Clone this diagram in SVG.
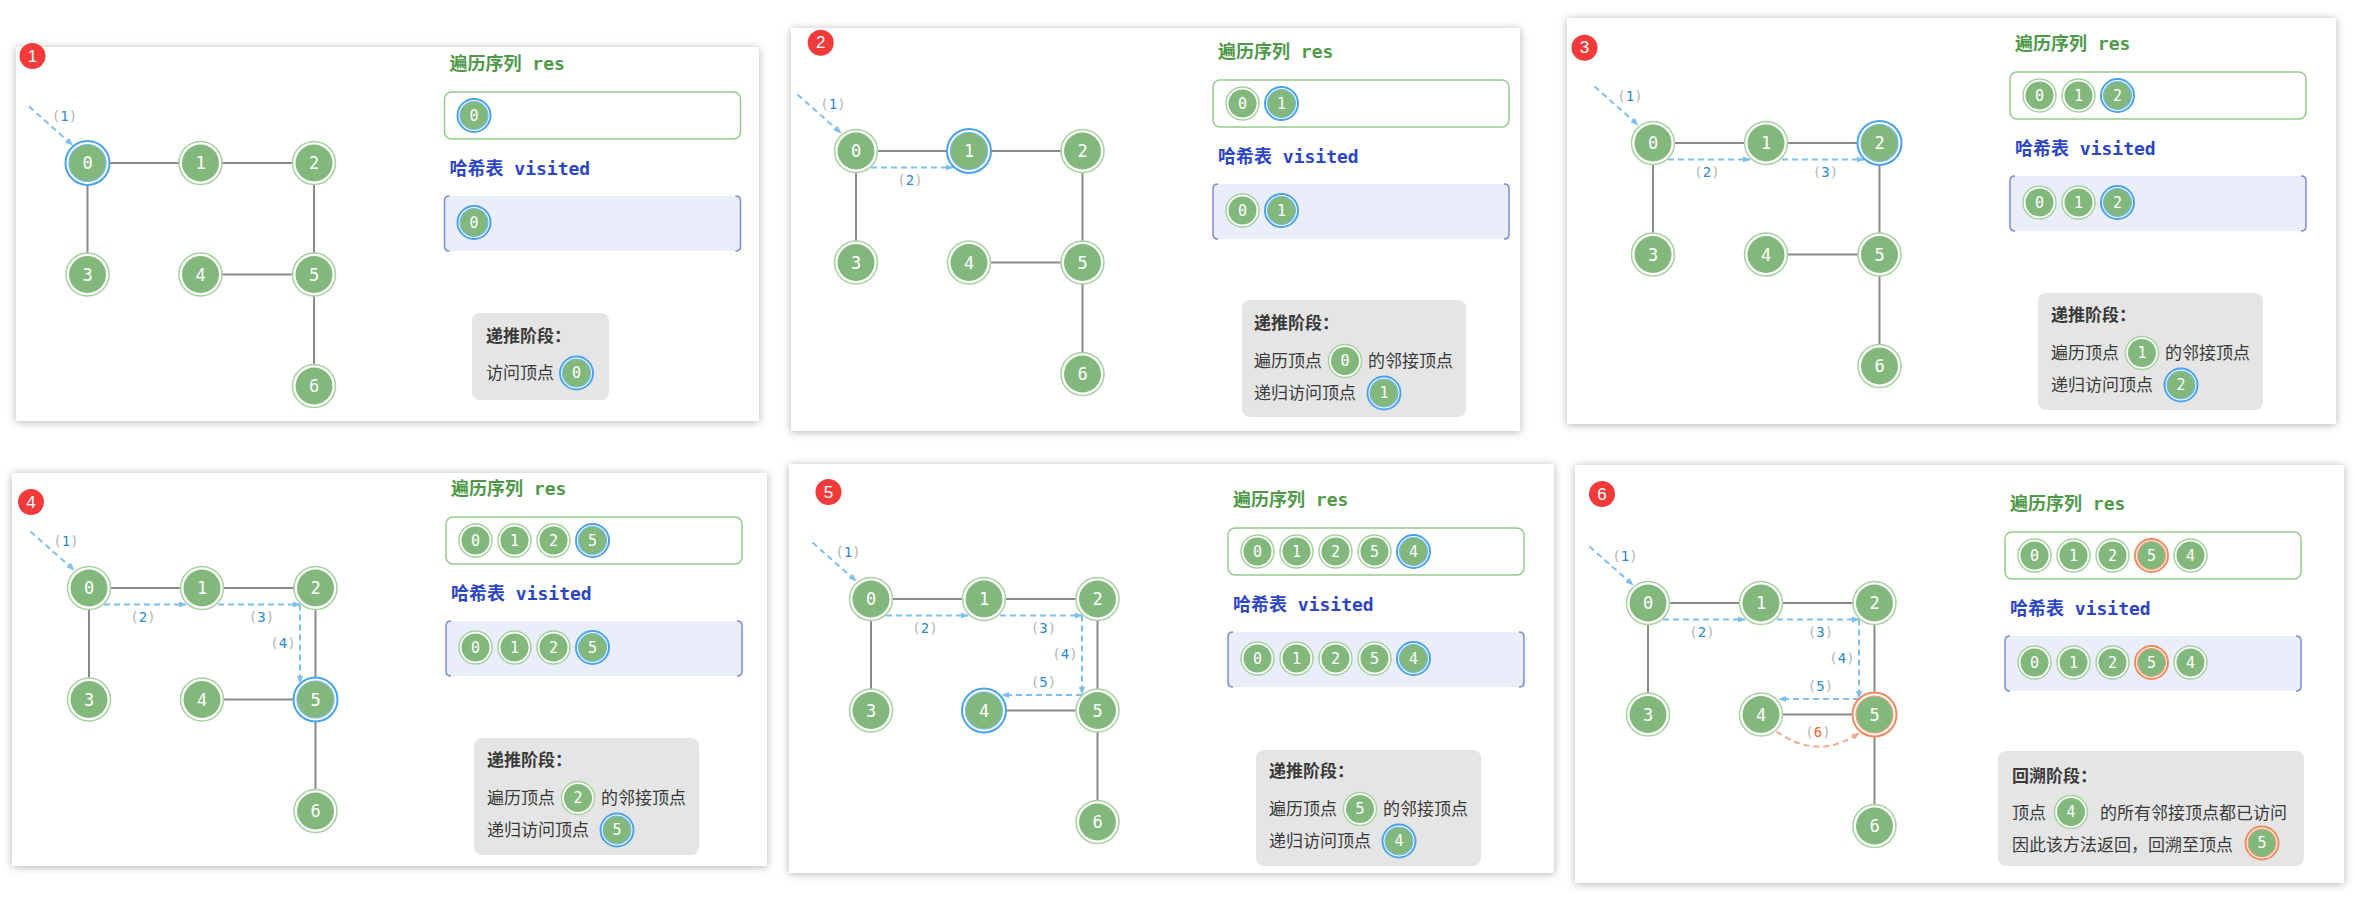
<svg xmlns="http://www.w3.org/2000/svg" width="2355" height="907" viewBox="0 0 2355 907">
<style>
.fr{fill:#fff;filter:url(#sh)}
.e{stroke:#8a8a8a;stroke-width:2;fill:none}
.o{fill:#fff;stroke:#a5d29e;stroke-width:1.5}
.ob{fill:#fff;stroke:#4aa3ea;stroke-width:2}
.oo{fill:#fff;stroke:#f2885c;stroke-width:2}
.f{fill:#82b87c}
.fb{fill:#82b87c;stroke:#72b9ef;stroke-width:1.2}
.fo{fill:#82b87c;stroke:#f5a07c;stroke-width:1.2}
.t{fill:#fff;font-family:"DejaVu Sans Mono","Liberation Mono",monospace;font-size:17px;text-anchor:middle;dominant-baseline:central}
.ts{font-size:15px}
.tg{fill:#4f9a48;font-family:"DejaVu Sans Mono","Noto Sans CJK SC",monospace;font-size:18px;font-weight:bold}
.tb{fill:#2d46c5;font-family:"DejaVu Sans Mono","Noto Sans CJK SC",monospace;font-size:18px;font-weight:bold}
.rb{fill:#fff;stroke:#96c98f;stroke-width:1.5}
.vb{fill:#eaeefa}
.vs{fill:none;stroke:#7b8cdb;stroke-width:1.5}
.sb{fill:#e5e5e5}
.st{fill:#3a3a3a;font-family:"Noto Sans CJK SC","Noto Sans",sans-serif;font-size:17px}
.sh{font-weight:bold}
.ar{fill:none;stroke:#80c0f0;stroke-width:2;stroke-dasharray:6 4;marker-end:url(#mb)}
.aro{fill:none;stroke:#f5a88c;stroke-width:2;stroke-dasharray:6 4;marker-end:url(#mo)}
.lb{font-family:"DejaVu Sans Mono","Liberation Mono",monospace;font-size:14px;fill:#b5b5b5;text-anchor:middle;dominant-baseline:central}
.d{fill:#2b8ad6}
.dor{fill:#f0682c}
.bd{fill:#f23a3a}
.bt{fill:#fff;font-family:"Liberation Sans",sans-serif;font-size:17px;text-anchor:middle;dominant-baseline:central}
</style>
<defs>
<filter id="sh" x="-5%" y="-5%" width="110%" height="110%"><feDropShadow dx="0" dy="1" stdDeviation="4" flood-color="#000" flood-opacity="0.3"/></filter>
<marker id="mb" viewBox="0 0 10 10" refX="9" refY="5" markerWidth="8" markerHeight="8" orient="auto" markerUnits="userSpaceOnUse"><path d="M0,1 L10,5 L0,9 Z" fill="#80c0f0"/></marker>
<marker id="mo" viewBox="0 0 10 10" refX="9" refY="5" markerWidth="8" markerHeight="8" orient="auto" markerUnits="userSpaceOnUse"><path d="M0,1 L10,5 L0,9 Z" fill="#f5a88c"/></marker>
</defs>
<rect width="2355" height="907" fill="#fff"/>

<!-- ============ PANEL 1 ============ -->
<g id="panel1">
<rect class="fr" x="16" y="47" width="743" height="374"/>
<g id="p1-badge"><circle class="bd" cx="32.5" cy="56" r="13"/><text class="bt" x="32.5" y="56">1</text></g>
<g transform="translate(87.5 163)">
<g id="p1-edges" class="e"><path d="M0 0H113"/><path d="M113 0H226.5"/><path d="M0 0V111.5"/><path d="M226.5 0V111.5"/><path d="M113 111.5H226.5"/><path d="M226.5 111.5V223"/></g>
<g id="p1-connectors"><path class="ar" d="M-58.5 -56.5L-15 -18"/><text class="lb" x="-23" y="-47">(<tspan class="d">1</tspan>)</text></g>
<g id="p1-n0"><circle class="ob" r="22"/><circle class="fb" r="18.5"/><text class="t">0</text></g>
<g id="p1-n1" transform="translate(113 0)"><circle class="o" r="21.5"/><circle class="f" r="18.5"/><text class="t">1</text></g>
<g id="p1-n2" transform="translate(226.5 0)"><circle class="o" r="21.5"/><circle class="f" r="18.5"/><text class="t">2</text></g>
<g id="p1-n3" transform="translate(0 111.5)"><circle class="o" r="21.5"/><circle class="f" r="18.5"/><text class="t">3</text></g>
<g id="p1-n4" transform="translate(113 111.5)"><circle class="o" r="21.5"/><circle class="f" r="18.5"/><text class="t">4</text></g>
<g id="p1-n5" transform="translate(226.5 111.5)"><circle class="o" r="21.5"/><circle class="f" r="18.5"/><text class="t">5</text></g>
<g id="p1-n6" transform="translate(226.5 223)"><circle class="o" r="21.5"/><circle class="f" r="18.5"/><text class="t">6</text></g>
<g id="p1-res"><text class="tg" x="362" y="-93">遍历序列 res</text><rect class="rb" x="357" y="-71" width="296" height="47" rx="7"/>
<g transform="translate(386.5 -47.5)"><circle class="ob" r="16.5"/><circle class="fb" r="14"/><text class="t ts">0</text></g></g>
<g id="p1-visited"><text class="tb" x="362" y="11.5">哈希表 visited</text><rect class="vb" x="357" y="33" width="296" height="55"/><path class="vs" d="M362 33Q357 33 357 38V83Q357 88 362 88M648 33Q653 33 653 38V83Q653 88 648 88"/>
<g transform="translate(386.5 59.5)"><circle class="ob" r="16.5"/><circle class="fb" r="14"/><text class="t ts">0</text></g></g>
<g id="p1-step"><rect class="sb" x="384.5" y="150" width="137" height="87" rx="8"/><text class="st sh" x="398.5" y="179">递推阶段：</text><text class="st" x="398.5" y="216">访问顶点</text>
<g transform="translate(489 210)"><circle class="ob" r="16.5"/><circle class="fb" r="14"/><text class="t ts">0</text></g></g>
</g>
</g>

<!-- ============ PANEL 2 ============ -->
<g id="panel2">
<rect class="fr" x="791" y="28" width="729" height="403"/>
<g id="p2-badge"><circle class="bd" cx="820.7" cy="42.7" r="13"/><text class="bt" x="820.7" y="42.7">2</text></g>
<g transform="translate(856 151)">
<g id="p2-edges" class="e"><path d="M0 0H113"/><path d="M113 0H226.5"/><path d="M0 0V111.5"/><path d="M226.5 0V111.5"/><path d="M113 111.5H226.5"/><path d="M226.5 111.5V223"/></g>
<g id="p2-connectors"><path class="ar" d="M-58.5 -56.5L-15 -18"/><text class="lb" x="-23" y="-47">(<tspan class="d">1</tspan>)</text>
<path class="ar" d="M15 16.5H97"/><text class="lb" x="54" y="29">(<tspan class="d">2</tspan>)</text></g>
<g id="p2-n0"><circle class="o" r="21.5"/><circle class="f" r="18.5"/><text class="t">0</text></g>
<g id="p2-n1" transform="translate(113 0)"><circle class="ob" r="22"/><circle class="fb" r="18.5"/><text class="t">1</text></g>
<g id="p2-n2" transform="translate(226.5 0)"><circle class="o" r="21.5"/><circle class="f" r="18.5"/><text class="t">2</text></g>
<g id="p2-n3" transform="translate(0 111.5)"><circle class="o" r="21.5"/><circle class="f" r="18.5"/><text class="t">3</text></g>
<g id="p2-n4" transform="translate(113 111.5)"><circle class="o" r="21.5"/><circle class="f" r="18.5"/><text class="t">4</text></g>
<g id="p2-n5" transform="translate(226.5 111.5)"><circle class="o" r="21.5"/><circle class="f" r="18.5"/><text class="t">5</text></g>
<g id="p2-n6" transform="translate(226.5 223)"><circle class="o" r="21.5"/><circle class="f" r="18.5"/><text class="t">6</text></g>
<g id="p2-res"><text class="tg" x="362" y="-93">遍历序列 res</text><rect class="rb" x="357" y="-71" width="296" height="47" rx="7"/>
<g transform="translate(386.5 -47.5)"><circle class="o" r="16.5"/><circle class="f" r="14"/><text class="t ts">0</text></g>
<g transform="translate(425.5 -47.5)"><circle class="ob" r="16.5"/><circle class="fb" r="14"/><text class="t ts">1</text></g></g>
<g id="p2-visited"><text class="tb" x="362" y="11.5">哈希表 visited</text><rect class="vb" x="357" y="33" width="296" height="55"/><path class="vs" d="M362 33Q357 33 357 38V83Q357 88 362 88M648 33Q653 33 653 38V83Q653 88 648 88"/>
<g transform="translate(386.5 59.5)"><circle class="o" r="16.5"/><circle class="f" r="14"/><text class="t ts">0</text></g>
<g transform="translate(425.5 59.5)"><circle class="ob" r="16.5"/><circle class="fb" r="14"/><text class="t ts">1</text></g></g>
<g id="p2-step"><rect class="sb" x="386" y="149" width="224" height="117" rx="8"/><text class="st sh" x="398" y="178">递推阶段：</text>
<text class="st" x="398" y="216">遍历顶点</text><g transform="translate(489 210)"><circle class="o" r="16.5"/><circle class="f" r="14"/><text class="t ts">0</text></g><text class="st" x="512" y="216">的邻接顶点</text>
<text class="st" x="398" y="248">递归访问顶点</text><g transform="translate(528 242)"><circle class="ob" r="16.5"/><circle class="fb" r="14"/><text class="t ts">1</text></g></g>
</g>
</g>

<!-- ============ PANEL 3 ============ -->
<g id="panel3">
<rect class="fr" x="1567" y="18" width="769" height="406"/>
<g id="p3-badge"><circle class="bd" cx="1584.5" cy="47.7" r="13"/><text class="bt" x="1584.5" y="47.7">3</text></g>
<g transform="translate(1653 143)">
<g id="p3-edges" class="e"><path d="M0 0H113"/><path d="M113 0H226.5"/><path d="M0 0V111.5"/><path d="M226.5 0V111.5"/><path d="M113 111.5H226.5"/><path d="M226.5 111.5V223"/></g>
<g id="p3-connectors"><path class="ar" d="M-58.5 -56.5L-15 -18"/><text class="lb" x="-23" y="-47">(<tspan class="d">1</tspan>)</text>
<path class="ar" d="M15 16.5H97"/><text class="lb" x="54" y="29">(<tspan class="d">2</tspan>)</text>
<path class="ar" d="M129 16.5H211"/><text class="lb" x="172.5" y="29">(<tspan class="d">3</tspan>)</text></g>
<g id="p3-n0"><circle class="o" r="21.5"/><circle class="f" r="18.5"/><text class="t">0</text></g>
<g id="p3-n1" transform="translate(113 0)"><circle class="o" r="21.5"/><circle class="f" r="18.5"/><text class="t">1</text></g>
<g id="p3-n2" transform="translate(226.5 0)"><circle class="ob" r="22"/><circle class="fb" r="18.5"/><text class="t">2</text></g>
<g id="p3-n3" transform="translate(0 111.5)"><circle class="o" r="21.5"/><circle class="f" r="18.5"/><text class="t">3</text></g>
<g id="p3-n4" transform="translate(113 111.5)"><circle class="o" r="21.5"/><circle class="f" r="18.5"/><text class="t">4</text></g>
<g id="p3-n5" transform="translate(226.5 111.5)"><circle class="o" r="21.5"/><circle class="f" r="18.5"/><text class="t">5</text></g>
<g id="p3-n6" transform="translate(226.5 223)"><circle class="o" r="21.5"/><circle class="f" r="18.5"/><text class="t">6</text></g>
<g id="p3-res"><text class="tg" x="362" y="-93">遍历序列 res</text><rect class="rb" x="357" y="-71" width="296" height="47" rx="7"/>
<g transform="translate(386.5 -47.5)"><circle class="o" r="16.5"/><circle class="f" r="14"/><text class="t ts">0</text></g>
<g transform="translate(425.5 -47.5)"><circle class="o" r="16.5"/><circle class="f" r="14"/><text class="t ts">1</text></g>
<g transform="translate(464.5 -47.5)"><circle class="ob" r="16.5"/><circle class="fb" r="14"/><text class="t ts">2</text></g></g>
<g id="p3-visited"><text class="tb" x="362" y="11.5">哈希表 visited</text><rect class="vb" x="357" y="33" width="296" height="55"/><path class="vs" d="M362 33Q357 33 357 38V83Q357 88 362 88M648 33Q653 33 653 38V83Q653 88 648 88"/>
<g transform="translate(386.5 59.5)"><circle class="o" r="16.5"/><circle class="f" r="14"/><text class="t ts">0</text></g>
<g transform="translate(425.5 59.5)"><circle class="o" r="16.5"/><circle class="f" r="14"/><text class="t ts">1</text></g>
<g transform="translate(464.5 59.5)"><circle class="ob" r="16.5"/><circle class="fb" r="14"/><text class="t ts">2</text></g></g>
<g id="p3-step"><rect class="sb" x="385" y="150" width="225" height="117" rx="8"/><text class="st sh" x="398" y="178">递推阶段：</text>
<text class="st" x="398" y="216">遍历顶点</text><g transform="translate(489 210)"><circle class="o" r="16.5"/><circle class="f" r="14"/><text class="t ts">1</text></g><text class="st" x="512" y="216">的邻接顶点</text>
<text class="st" x="398" y="248">递归访问顶点</text><g transform="translate(528 242)"><circle class="ob" r="16.5"/><circle class="fb" r="14"/><text class="t ts">2</text></g></g>
</g>
</g>

<!-- ============ PANEL 4 ============ -->
<g id="panel4">
<rect class="fr" x="12" y="473" width="755" height="393"/>
<g id="p4-badge"><circle class="bd" cx="31" cy="502" r="13"/><text class="bt" x="31" y="502">4</text></g>
<g transform="translate(89 588)">
<g id="p4-edges" class="e"><path d="M0 0H113"/><path d="M113 0H226.5"/><path d="M0 0V111.5"/><path d="M226.5 0V111.5"/><path d="M113 111.5H226.5"/><path d="M226.5 111.5V223"/></g>
<g id="p4-connectors"><path class="ar" d="M-58.5 -56.5L-15 -18"/><text class="lb" x="-23" y="-47">(<tspan class="d">1</tspan>)</text>
<path class="ar" d="M15 16.5H97"/><text class="lb" x="54" y="29">(<tspan class="d">2</tspan>)</text>
<path class="ar" d="M129 16.5H211"/><text class="lb" x="172.5" y="29">(<tspan class="d">3</tspan>)</text>
<path class="ar" d="M211 16.5V95"/><text class="lb" x="194" y="55">(<tspan class="d">4</tspan>)</text></g>
<g id="p4-n0"><circle class="o" r="21.5"/><circle class="f" r="18.5"/><text class="t">0</text></g>
<g id="p4-n1" transform="translate(113 0)"><circle class="o" r="21.5"/><circle class="f" r="18.5"/><text class="t">1</text></g>
<g id="p4-n2" transform="translate(226.5 0)"><circle class="o" r="21.5"/><circle class="f" r="18.5"/><text class="t">2</text></g>
<g id="p4-n3" transform="translate(0 111.5)"><circle class="o" r="21.5"/><circle class="f" r="18.5"/><text class="t">3</text></g>
<g id="p4-n4" transform="translate(113 111.5)"><circle class="o" r="21.5"/><circle class="f" r="18.5"/><text class="t">4</text></g>
<g id="p4-n5" transform="translate(226.5 111.5)"><circle class="ob" r="22"/><circle class="fb" r="18.5"/><text class="t">5</text></g>
<g id="p4-n6" transform="translate(226.5 223)"><circle class="o" r="21.5"/><circle class="f" r="18.5"/><text class="t">6</text></g>
<g id="p4-res"><text class="tg" x="362" y="-93">遍历序列 res</text><rect class="rb" x="357" y="-71" width="296" height="47" rx="7"/>
<g transform="translate(386.5 -47.5)"><circle class="o" r="16.5"/><circle class="f" r="14"/><text class="t ts">0</text></g>
<g transform="translate(425.5 -47.5)"><circle class="o" r="16.5"/><circle class="f" r="14"/><text class="t ts">1</text></g>
<g transform="translate(464.5 -47.5)"><circle class="o" r="16.5"/><circle class="f" r="14"/><text class="t ts">2</text></g>
<g transform="translate(503.5 -47.5)"><circle class="ob" r="16.5"/><circle class="fb" r="14"/><text class="t ts">5</text></g></g>
<g id="p4-visited"><text class="tb" x="362" y="11.5">哈希表 visited</text><rect class="vb" x="357" y="33" width="296" height="55"/><path class="vs" d="M362 33Q357 33 357 38V83Q357 88 362 88M648 33Q653 33 653 38V83Q653 88 648 88"/>
<g transform="translate(386.5 59.5)"><circle class="o" r="16.5"/><circle class="f" r="14"/><text class="t ts">0</text></g>
<g transform="translate(425.5 59.5)"><circle class="o" r="16.5"/><circle class="f" r="14"/><text class="t ts">1</text></g>
<g transform="translate(464.5 59.5)"><circle class="o" r="16.5"/><circle class="f" r="14"/><text class="t ts">2</text></g>
<g transform="translate(503.5 59.5)"><circle class="ob" r="16.5"/><circle class="fb" r="14"/><text class="t ts">5</text></g></g>
<g id="p4-step"><rect class="sb" x="385" y="150" width="225" height="117" rx="8"/><text class="st sh" x="398" y="178">递推阶段：</text>
<text class="st" x="398" y="216">遍历顶点</text><g transform="translate(489 210)"><circle class="o" r="16.5"/><circle class="f" r="14"/><text class="t ts">2</text></g><text class="st" x="512" y="216">的邻接顶点</text>
<text class="st" x="398" y="248">递归访问顶点</text><g transform="translate(528 242)"><circle class="ob" r="16.5"/><circle class="fb" r="14"/><text class="t ts">5</text></g></g>
</g>
</g>

<!-- ============ PANEL 5 ============ -->
<g id="panel5">
<rect class="fr" x="789" y="464" width="765" height="409"/>
<g id="p5-badge"><circle class="bd" cx="828.5" cy="492" r="13"/><text class="bt" x="828.5" y="492">5</text></g>
<g transform="translate(871 599)">
<g id="p5-edges" class="e"><path d="M0 0H113"/><path d="M113 0H226.5"/><path d="M0 0V111.5"/><path d="M226.5 0V111.5"/><path d="M113 111.5H226.5"/><path d="M226.5 111.5V223"/></g>
<g id="p5-connectors"><path class="ar" d="M-58.5 -56.5L-15 -18"/><text class="lb" x="-23" y="-47">(<tspan class="d">1</tspan>)</text>
<path class="ar" d="M15 16.5H97"/><text class="lb" x="54" y="29">(<tspan class="d">2</tspan>)</text>
<path class="ar" d="M129 16.5H211"/><text class="lb" x="172.5" y="29">(<tspan class="d">3</tspan>)</text>
<path class="ar" d="M211 16.5V95"/><text class="lb" x="194" y="55">(<tspan class="d">4</tspan>)</text>
<path class="ar" d="M211 96H131"/><text class="lb" x="172.5" y="83">(<tspan class="d">5</tspan>)</text></g>
<g id="p5-n0"><circle class="o" r="21.5"/><circle class="f" r="18.5"/><text class="t">0</text></g>
<g id="p5-n1" transform="translate(113 0)"><circle class="o" r="21.5"/><circle class="f" r="18.5"/><text class="t">1</text></g>
<g id="p5-n2" transform="translate(226.5 0)"><circle class="o" r="21.5"/><circle class="f" r="18.5"/><text class="t">2</text></g>
<g id="p5-n3" transform="translate(0 111.5)"><circle class="o" r="21.5"/><circle class="f" r="18.5"/><text class="t">3</text></g>
<g id="p5-n4" transform="translate(113 111.5)"><circle class="ob" r="22"/><circle class="fb" r="18.5"/><text class="t">4</text></g>
<g id="p5-n5" transform="translate(226.5 111.5)"><circle class="o" r="21.5"/><circle class="f" r="18.5"/><text class="t">5</text></g>
<g id="p5-n6" transform="translate(226.5 223)"><circle class="o" r="21.5"/><circle class="f" r="18.5"/><text class="t">6</text></g>
<g id="p5-res"><text class="tg" x="362" y="-93">遍历序列 res</text><rect class="rb" x="357" y="-71" width="296" height="47" rx="7"/>
<g transform="translate(386.5 -47.5)"><circle class="o" r="16.5"/><circle class="f" r="14"/><text class="t ts">0</text></g>
<g transform="translate(425.5 -47.5)"><circle class="o" r="16.5"/><circle class="f" r="14"/><text class="t ts">1</text></g>
<g transform="translate(464.5 -47.5)"><circle class="o" r="16.5"/><circle class="f" r="14"/><text class="t ts">2</text></g>
<g transform="translate(503.5 -47.5)"><circle class="o" r="16.5"/><circle class="f" r="14"/><text class="t ts">5</text></g>
<g transform="translate(542.5 -47.5)"><circle class="ob" r="16.5"/><circle class="fb" r="14"/><text class="t ts">4</text></g></g>
<g id="p5-visited"><text class="tb" x="362" y="11.5">哈希表 visited</text><rect class="vb" x="357" y="33" width="296" height="55"/><path class="vs" d="M362 33Q357 33 357 38V83Q357 88 362 88M648 33Q653 33 653 38V83Q653 88 648 88"/>
<g transform="translate(386.5 59.5)"><circle class="o" r="16.5"/><circle class="f" r="14"/><text class="t ts">0</text></g>
<g transform="translate(425.5 59.5)"><circle class="o" r="16.5"/><circle class="f" r="14"/><text class="t ts">1</text></g>
<g transform="translate(464.5 59.5)"><circle class="o" r="16.5"/><circle class="f" r="14"/><text class="t ts">2</text></g>
<g transform="translate(503.5 59.5)"><circle class="o" r="16.5"/><circle class="f" r="14"/><text class="t ts">5</text></g>
<g transform="translate(542.5 59.5)"><circle class="ob" r="16.5"/><circle class="fb" r="14"/><text class="t ts">4</text></g></g>
<g id="p5-step"><rect class="sb" x="385" y="151" width="225" height="116" rx="8"/><text class="st sh" x="398" y="178">递推阶段：</text>
<text class="st" x="398" y="216">遍历顶点</text><g transform="translate(489 210)"><circle class="o" r="16.5"/><circle class="f" r="14"/><text class="t ts">5</text></g><text class="st" x="512" y="216">的邻接顶点</text>
<text class="st" x="398" y="248">递归访问顶点</text><g transform="translate(528 242)"><circle class="ob" r="16.5"/><circle class="fb" r="14"/><text class="t ts">4</text></g></g>
</g>
</g>

<!-- ============ PANEL 6 ============ -->
<g id="panel6">
<rect class="fr" x="1575" y="465" width="769" height="418"/>
<g id="p6-badge"><circle class="bd" cx="1602" cy="494" r="13"/><text class="bt" x="1602" y="494">6</text></g>
<g transform="translate(1648 603)">
<g id="p6-edges" class="e"><path d="M0 0H113"/><path d="M113 0H226.5"/><path d="M0 0V111.5"/><path d="M226.5 0V111.5"/><path d="M113 111.5H226.5"/><path d="M226.5 111.5V223"/></g>
<g id="p6-connectors"><path class="ar" d="M-58.5 -56.5L-15 -18"/><text class="lb" x="-23" y="-47">(<tspan class="d">1</tspan>)</text>
<path class="ar" d="M15 16.5H97"/><text class="lb" x="54" y="29">(<tspan class="d">2</tspan>)</text>
<path class="ar" d="M129 16.5H211"/><text class="lb" x="172.5" y="29">(<tspan class="d">3</tspan>)</text>
<path class="ar" d="M211 16.5V95"/><text class="lb" x="194" y="55">(<tspan class="d">4</tspan>)</text>
<path class="ar" d="M211 96H131"/><text class="lb" x="172.5" y="83">(<tspan class="d">5</tspan>)</text>
<path class="aro" d="M128.6 128.5Q170 158 211 130"/><text class="lb" x="170" y="129">(<tspan class="dor">6</tspan>)</text></g>
<g id="p6-n0"><circle class="o" r="21.5"/><circle class="f" r="18.5"/><text class="t">0</text></g>
<g id="p6-n1" transform="translate(113 0)"><circle class="o" r="21.5"/><circle class="f" r="18.5"/><text class="t">1</text></g>
<g id="p6-n2" transform="translate(226.5 0)"><circle class="o" r="21.5"/><circle class="f" r="18.5"/><text class="t">2</text></g>
<g id="p6-n3" transform="translate(0 111.5)"><circle class="o" r="21.5"/><circle class="f" r="18.5"/><text class="t">3</text></g>
<g id="p6-n4" transform="translate(113 111.5)"><circle class="o" r="21.5"/><circle class="f" r="18.5"/><text class="t">4</text></g>
<g id="p6-n5" transform="translate(226.5 111.5)"><circle class="oo" r="22"/><circle class="fo" r="18.5"/><text class="t">5</text></g>
<g id="p6-n6" transform="translate(226.5 223)"><circle class="o" r="21.5"/><circle class="f" r="18.5"/><text class="t">6</text></g>
<g id="p6-res"><text class="tg" x="362" y="-93">遍历序列 res</text><rect class="rb" x="357" y="-71" width="296" height="47" rx="7"/>
<g transform="translate(386.5 -47.5)"><circle class="o" r="16.5"/><circle class="f" r="14"/><text class="t ts">0</text></g>
<g transform="translate(425.5 -47.5)"><circle class="o" r="16.5"/><circle class="f" r="14"/><text class="t ts">1</text></g>
<g transform="translate(464.5 -47.5)"><circle class="o" r="16.5"/><circle class="f" r="14"/><text class="t ts">2</text></g>
<g transform="translate(503.5 -47.5)"><circle class="oo" r="16.5"/><circle class="fo" r="14"/><text class="t ts">5</text></g>
<g transform="translate(542.5 -47.5)"><circle class="o" r="16.5"/><circle class="f" r="14"/><text class="t ts">4</text></g></g>
<g id="p6-visited"><text class="tb" x="362" y="11.5">哈希表 visited</text><rect class="vb" x="357" y="33" width="296" height="55"/><path class="vs" d="M362 33Q357 33 357 38V83Q357 88 362 88M648 33Q653 33 653 38V83Q653 88 648 88"/>
<g transform="translate(386.5 59.5)"><circle class="o" r="16.5"/><circle class="f" r="14"/><text class="t ts">0</text></g>
<g transform="translate(425.5 59.5)"><circle class="o" r="16.5"/><circle class="f" r="14"/><text class="t ts">1</text></g>
<g transform="translate(464.5 59.5)"><circle class="o" r="16.5"/><circle class="f" r="14"/><text class="t ts">2</text></g>
<g transform="translate(503.5 59.5)"><circle class="oo" r="16.5"/><circle class="fo" r="14"/><text class="t ts">5</text></g>
<g transform="translate(542.5 59.5)"><circle class="o" r="16.5"/><circle class="f" r="14"/><text class="t ts">4</text></g></g>
<g id="p6-step"><rect class="sb" x="350" y="148" width="306" height="115" rx="8"/><text class="st sh" x="364" y="179">回溯阶段：</text>
<text class="st" x="364" y="216">顶点</text><g transform="translate(423 209)"><circle class="o" r="16.5"/><circle class="f" r="14"/><text class="t ts">4</text></g><text class="st" x="452" y="216">的所有邻接顶点都已访问</text>
<text class="st" x="364" y="248">因此该方法返回，回溯至顶点</text><g transform="translate(614 240)"><circle class="oo" r="16.5"/><circle class="fo" r="14"/><text class="t ts">5</text></g></g>
</g>
</g>
</svg>
